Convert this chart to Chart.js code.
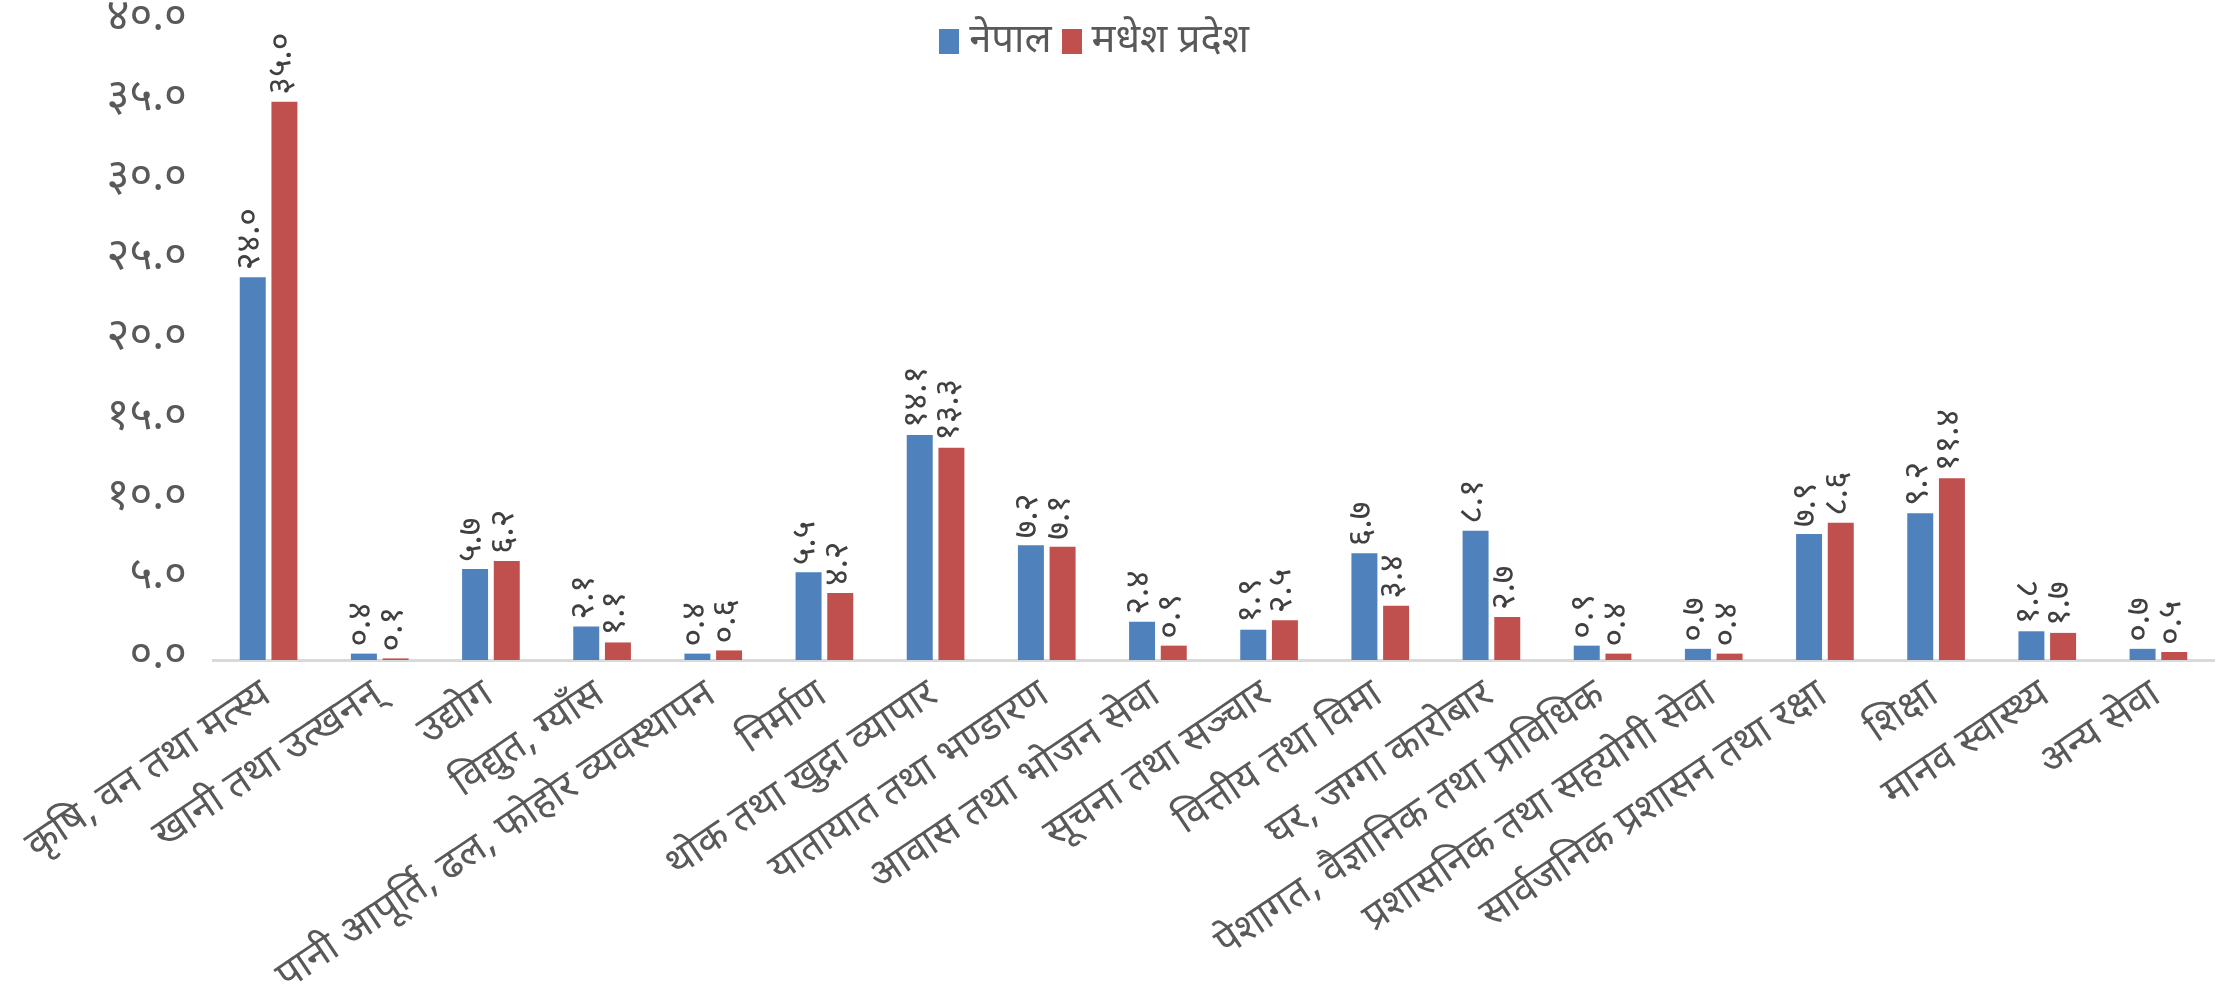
<!DOCTYPE html>
<html><head><meta charset="utf-8">
<script src="https://cdn.jsdelivr.net/npm/chart.js@4.4.1/dist/chart.umd.min.js"></script>
<style>
html,body{margin:0;padding:0;background:#fff;}
#wrap{position:relative;width:2228px;height:1004px;}
#legend{position:absolute;top:18px;left:-20px;width:2228px;text-align:center;font-family:'Noto Sans Devanagari','Noto Sans',sans-serif;font-size:40px;color:#595959;line-height:48px;}
#legend .it{display:inline-block;margin:0 5px;}
#legend .sw{display:inline-block;width:20px;height:25px;vertical-align:-2px;margin-right:10px;}
</style></head>
<body>
<div id="wrap"><canvas id="c" width="2228" height="1004"></canvas><div id="legend"></div></div>
<script>
const categories = [
  'कृषि, वन तथा मत्स्य',
  'खानी तथा उत्खनन्',
  'उद्योग',
  'विद्युत, ग्याँस',
  'पानी आपूर्ति, ढल, फोहोर व्यवस्थापन',
  'निर्माण',
  'थोक तथा खुद्रा व्यापार',
  'यातायात तथा भण्डारण',
  'आवास तथा भोजन सेवा',
  'सूचना तथा सञ्चार',
  'वित्तीय तथा विमा',
  'घर, जग्गा कारोबार',
  'पेशागत, वैज्ञानिक तथा प्राविधिक',
  'प्रशासनिक तथा सहयोगी सेवा',
  'सार्वजनिक प्रशासन तथा रक्षा',
  'शिक्षा',
  'मानव स्वास्थ्य',
  'अन्य सेवा'
];
const nepalValues   = [24.0, 0.4, 5.7, 2.1, 0.4, 5.5, 14.1, 7.2, 2.4, 1.9, 6.7, 8.1, 0.9, 0.7, 7.9, 9.2, 1.8, 0.7];
const madheshValues = [35.0, 0.1, 6.2, 1.1, 0.6, 4.2, 13.3, 7.1, 0.9, 2.5, 3.4, 2.7, 0.4, 0.4, 8.6, 11.4, 1.7, 0.5];
const seriesNames = ['नेपाल', 'मधेश प्रदेश'];
const seriesColors = ['#4f81bd', '#c0504d'];
const yMin = 0, yMax = 40, yStep = 5;

const FONT = "'Noto Sans Devanagari','Noto Sans',sans-serif";
const devDigits = '०१२३४५६७८९';
function toDev(s){ return String(s).replace(/[0-9]/g, d => devDigits[+d]); }

// HTML legend (real text)
const lg = document.getElementById('legend');
seriesNames.forEach((n,i)=>{
  const it = document.createElement('span'); it.className='it';
  const sw = document.createElement('span'); sw.className='sw'; sw.style.background=seriesColors[i];
  it.appendChild(sw); it.appendChild(document.createTextNode(n)); lg.appendChild(it);
});

const valueLabels = {
  id: 'valueLabels',
  afterDatasetsDraw(chart){
    const ctx = chart.ctx;
    ctx.save();
    ctx.font = '34px ' + FONT;
    ctx.fillStyle = '#404040';
    ctx.textAlign = 'left';
    ctx.textBaseline = 'middle';
    chart.data.datasets.forEach((ds, di)=>{
      const meta = chart.getDatasetMeta(di);
      meta.data.forEach((el, i)=>{
        const v = ds.data[i];
        ctx.save();
        ctx.translate(el.x, el.y - 7);
        ctx.rotate(-Math.PI/2);
        ctx.fillText(toDev(v.toFixed(1)), 0, 0);
        ctx.restore();
      });
    });
    ctx.restore();
  }
};

new Chart(document.getElementById('c'), {
  type: 'bar',
  data: {
    labels: categories,
    datasets: [
      { label: seriesNames[0], data: nepalValues, backgroundColor: seriesColors[0] },
      { label: seriesNames[1], data: madheshValues, backgroundColor: seriesColors[1] }
    ]
  },
  options: {
    responsive: false,
    animation: false,
    devicePixelRatio: 1,
    categoryPercentage: 0.57,
    barPercentage: 0.82,
    layout: { padding: { top: 22, right: 14, left: 0, bottom: 0 } },
    plugins: { legend: { display: false }, tooltip: { enabled: false } },
    scales: {
      x: {
        grid: { display: false },
        border: { display: true, color: '#d9d9d9', width: 3 },
        ticks: { autoSkip: false, minRotation: 34, maxRotation: 34, color: '#595959', font: { family: FONT, size: 40 }, padding: 6 },
        afterFit(s){ s.height = 344; }
      },
      y: {
        min: yMin, max: yMax,
        grid: { display: false },
        border: { display: false },
        ticks: { stepSize: yStep, color: '#595959', font: { family: FONT, size: 44, lineHeight: 0.8 }, padding: 18,
                 callback: v => toDev(Number(v).toFixed(1)) },
        afterFit(s){ s.width = 213; s.paddingTop = 0; s.paddingBottom = 0; }
      }
    }
  },
  plugins: [valueLabels]
});
</script>
</body></html>
